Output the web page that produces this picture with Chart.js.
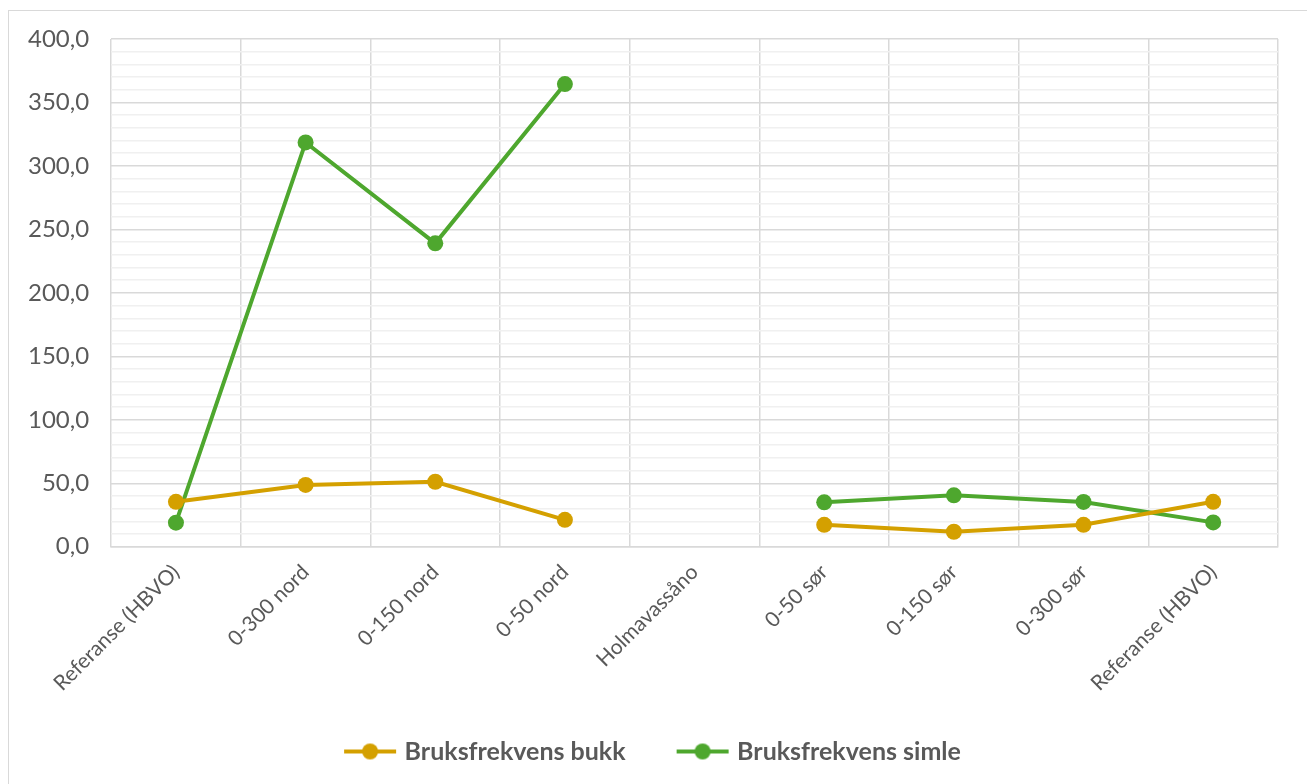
<!DOCTYPE html>
<html>
<head>
<meta charset="utf-8">
<script src="https://cdn.jsdelivr.net/npm/chart.js@4"></script>
<style>
  html, body { margin: 0; padding: 0; background: #fff; }
  #wrap { position: relative; width: 1307px; height: 784px; }
  #frame { position: absolute; left: 8px; top: 10px; width: 1320px; height: 800px; border: 1px solid #d9d9d9; box-sizing: border-box; }
  canvas { position: absolute; left: 0; top: 0; }
</style>
</head>
<body>
<div id="wrap">
  <div id="frame"></div>
  <canvas id="chart" width="1307" height="784"></canvas>
</div>
<script>
const categories = ["Referanse (HBVO)", "0-300 nord", "0-150 nord", "0-50 nord", "Holmavassåno", "0-50 sør", "0-150 sør", "0-300 sør", "Referanse (HBVO)"];
const bukk = [35.4, 48.7, 51.2, 21.2, null, 17.3, 11.8, 17.3, 35.4];
const simle = [19.0, 318.5, 239.0, 364.5, null, 35.0, 40.5, 35.3, 19.2];
const seriesNames = ["Bruksfrekvens bukk", "Bruksfrekvens simle"];
const seriesColors = ["#d4a000", "#4ea72e"];

const font = "Lato, 'Open Sans', sans-serif";
const textColor = "#595959";

// legend marker: short line with a dot, drawn at the right end of a wider image
function legendMarker(color) {
  const c = document.createElement("canvas");
  c.width = 79; c.height = 18;
  const ctx = c.getContext("2d");
  ctx.strokeStyle = color;
  ctx.lineWidth = 4;
  ctx.beginPath();
  ctx.moveTo(26, 9); ctx.lineTo(78, 9);
  ctx.stroke();
  ctx.fillStyle = color;
  ctx.beginPath();
  ctx.arc(52, 9, 8, 0, Math.PI * 2);
  ctx.fill();
  return c;
}

const datasets = [bukk, simle].map((data, i) => ({
  label: seriesNames[i],
  data,
  borderColor: seriesColors[i],
  backgroundColor: seriesColors[i],
  borderWidth: 4,
  pointRadius: 8,
  pointHoverRadius: 8,
  pointBorderWidth: 0,
  spanGaps: false,
  tension: 0
}));

new Chart(document.getElementById("chart"), {
  type: "line",
  data: { labels: categories, datasets },
  options: {
    responsive: false,
    animation: false,
    layout: { padding: { left: 6, right: 29, top: 39, bottom: 10 } },
    plugins: {
      tooltip: { enabled: false },
      legend: {
        position: "bottom",
        labels: {
          color: textColor,
          font: { family: font, size: 25, weight: "bold" },
          usePointStyle: true,
          pointStyleWidth: 69,
          boxWidth: 69,
          boxHeight: 18,
          padding: 30,
          generateLabels(chart) {
            return chart.data.datasets.map((ds, i) => ({
              text: ds.label,
              fontColor: textColor,
              pointStyle: legendMarker(seriesColors[i]),
              datasetIndex: i,
              hidden: false,
              lineWidth: 0
            }));
          }
        }
      }
    },
    scales: {
      x: {
        offset: true,
        grid: { offset: true, color: "#d9d9d9", lineWidth: 1.5, drawTicks: false },
        border: { color: "#d9d9d9", width: 1.5 },
        ticks: {
          color: textColor,
          font: { family: font, size: 21 },
          maxRotation: 45,
          minRotation: 45,
          autoSkip: false,
          padding: 13
        }
      },
      y: {
        min: 0,
        max: 400,
        grid: {
          color: ctx => (ctx.tick && ctx.tick.value % 50 === 0) ? "#d9d9d9" : "#f0f0f0",
          lineWidth: 1.5,
          drawTicks: false
        },
        border: { display: false },
        ticks: {
          stepSize: 10,
          autoSkip: false,
          color: textColor,
          font: { family: font, size: 24 },
          padding: 22,
          callback: v => v % 50 === 0 ? v.toFixed(1).replace(".", ",") : ""
        }
      }
    }
  }
});
</script>
</body>
</html>
